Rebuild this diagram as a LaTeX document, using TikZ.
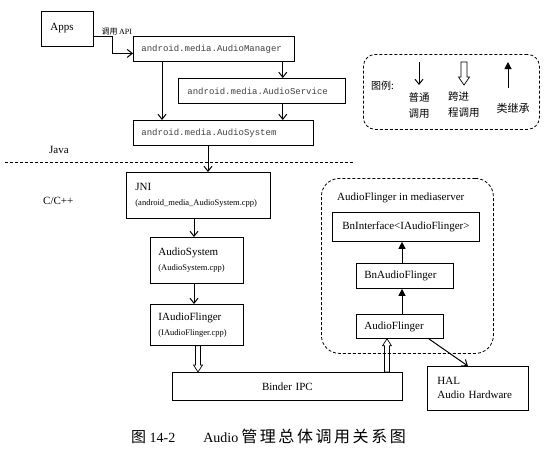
\documentclass[tikz,border=0pt]{standalone}
\usepackage{fontspec}
\setmainfont{Liberation Serif}
\setmonofont{Liberation Mono}
\newfontfamily\cjk{Noto Sans CJK SC}
\newfontfamily\cjkcap[LetterSpace=16]{Noto Sans CJK SC}
\usetikzlibrary{arrows.meta,calc}
\newcommand\mytitlefont{\fontsize{11}{13}\selectfont}
\newcommand\mysubfont{\fontsize{8.5}{10}\selectfont}
\newcommand\mymonofont{\ttfamily\fontsize{9}{11}\selectfont\color{black!75}}
\begin{document}
\begin{tikzpicture}[x=1pt,y=-1pt,
  box/.style={draw, line width=0.8pt, anchor=north west, inner ysep=0pt, align=left},
  monobox/.style={box, font=\mymonofont},
  txtbox/.style={box, font=\mytitlefont},
  call/.style={line width=1pt, -{Straight Barb[length=5pt,width=8pt]}},
  inherit/.style={line width=1pt, -{Triangle[length=7pt,width=7pt]}},
  hollow/.style n args={3}{line width=0.7pt, to path={
     ($(\tikztostart)!#1pt!-90:(\tikztotarget)$)
     -- ($(\tikztotarget)!{sqrt(#3*#3+#1*#1)*1pt}!{atan(#1/#3)}:(\tikztostart)$)
     -- ($(\tikztotarget)!{sqrt(#3*#3+#2*#2)*1pt}!{atan(#2/#3)}:(\tikztostart)$)
     -- (\tikztotarget)
     -- ($(\tikztotarget)!{sqrt(#3*#3+#2*#2)*1pt}!{-atan(#2/#3)}:(\tikztostart)$)
     -- ($(\tikztotarget)!{sqrt(#3*#3+#1*#1)*1pt}!{-atan(#1/#3)}:(\tikztostart)$)
     -- ($(\tikztostart)!#1pt!90:(\tikztotarget)$) -- cycle}},
  dashedbox/.style={draw, line width=0.8pt, dash pattern=on 3pt off 2pt, anchor=north west, inner sep=0pt}
]
\useasboundingbox (0,0) rectangle (556,467);

% ---------- Java layer ----------
\node[txtbox, minimum width=52pt, minimum height=35pt, text width=34pt, inner xsep=9pt] (apps) at (41,11) {\raisebox{4pt}{Apps}};
\node[monobox, minimum width=161pt, minimum height=25pt, text width=145pt, inner xsep=8pt] (am) at (133,36) {android.media.AudioManager};
\node[monobox, minimum width=167pt, minimum height=25pt, text width=149pt, inner xsep=9pt] (as) at (178,78) {android.media.AudioService};
\node[monobox, minimum width=180pt, minimum height=25pt, text width=164pt, inner xsep=8pt] (asys) at (133,120) {android.media.AudioSystem};

\draw[call] ([yshift=10pt]apps.south east) -- ++(19,0) |- ([yshift=-4.5pt]am.west);
\node[anchor=south west, inner sep=0.5pt, font=\fontsize{8}{9}\selectfont] (lblapi) at (101,36) {{\cjk 调用}\,API};

\coordinate (amR) at ([xshift=-12pt]am.south east);
\coordinate (amL) at ([xshift=29pt]am.south west);
\coordinate (asB) at (amR |- as.south);
\draw[call] (amR) -- (amR |- as.north);
\draw[call] (asB) -- (asB |- asys.north);
\draw[call] (amL) -- (amL |- asys.north);

\node[anchor=west, inner sep=0pt, font=\mytitlefont] (java) at (49,150) {Java};
\draw[line width=0.8pt, dash pattern=on 3pt off 2pt] (5,162) coordinate (sepA) -- (353,162) coordinate (sepB);
\node[anchor=west, inner sep=0pt, font=\mytitlefont] (cpp) at (43,201) {C/C++};

% ---------- native layer ----------
\node[txtbox, minimum width=144pt, minimum height=46pt, text width=126pt, inner xsep=9pt] (jni) at (126,172)
  {JNI\\[2pt]{\mysubfont (android\_media\_AudioSystem.cpp)}};
\node[txtbox, minimum width=93pt, minimum height=46pt, text width=77pt, inner xsep=8pt] (asn) at (150,237)
  {AudioSystem\\[2pt]{\mysubfont (AudioSystem.cpp)}};
\node[txtbox, minimum width=93pt, minimum height=41pt, text width=77pt, inner xsep=8pt] (iaf) at (150,304)
  {IAudioFlinger\\[2pt]{\mysubfont (IAudioFlinger.cpp)}};
\node[txtbox, minimum width=230pt, minimum height=28pt, text width=212pt, inner xsep=9pt, align=center] (binder) at (172,372) {Binder IPC};

\coordinate (asysB) at ([xshift=75pt]asys.south west);
\draw[call] (asysB) -- (asysB |- jni.north);
\coordinate (jniB) at ([xshift=68pt]jni.south west);
\draw[call] (jniB) -- (jniB |- asn.north);
\coordinate (asnB) at (jniB |- asn.south);
\draw[call] (asnB) -- (asnB |- iaf.north);

% ---------- mediaserver ----------
\node[dashedbox, rounded corners=18pt, minimum width=172pt, minimum height=175pt] (ms) at (321,178) {};
\node[anchor=west, inner sep=0pt, font=\mytitlefont] (mslabel) at (337,198) {AudioFlinger in mediaserver};
\node[txtbox, minimum width=147pt, minimum height=29pt, text width=135pt, inner xsep=6pt, align=center] (bni) at (332,212) {BnInterface<IAudioFlinger>};
\node[txtbox, minimum width=97pt, minimum height=25pt, text width=81pt, inner xsep=8pt] (bnaf) at (356,263) {BnAudioFlinger};
\node[txtbox, minimum width=87pt, minimum height=24pt, text width=71pt, inner xsep=8pt] (af) at (356,314) {AudioFlinger};
\node[txtbox, minimum width=101pt, minimum height=44pt, text width=81pt, inner xsep=10pt] (hal) at (427,366)
  {HAL\\[1pt]Audio Hardware};

\coordinate (bnafT) at ([xshift=46pt]bnaf.north west);
\draw[inherit] (bnafT) -- (bnafT |- bni.south);
\coordinate (afT) at ([xshift=46pt]af.north west);
\draw[inherit] (afT) -- (afT |- bnaf.south);

\coordinate (iafB) at ([xshift=48pt]iaf.south west);
\coordinate (binT) at (iafB |- binder.north);
\draw[hollow={2.5}{4.5}{7}] (iafB) to (binT);
\coordinate (afB) at ([xshift=31pt]af.south west);
\coordinate (binT2) at (afB |- binder.north);
\draw[hollow={2.5}{4.5}{7}] (binT2) to (afB);

\coordinate (afH) at ([xshift=-15pt]af.south east);
\coordinate (halT) at ([xshift=-10pt]hal.north);
\draw[call] (afH) -- (halT);

% ---------- legend ----------
\node[dashedbox, rounded corners=12pt, minimum width=176pt, minimum height=75pt] (legend) at (363,54) {};
\node[anchor=west, inner sep=0pt, font=\cjk\fontsize{10}{12}\selectfont] (lgtitle) at (371,86) {图例:};
\coordinate (lgA1) at (419,62);
\coordinate (lgA2) at (419,85);
\draw[call] (lgA1) -- (lgA2);
\node[anchor=north, inner sep=0pt, align=center, font=\cjk\fontsize{10.5}{16}\selectfont] (lgcall) at (419,92) {普通\\调用};
\coordinate (lgB1) at (464,62);
\coordinate (lgB2) at (464,85);
\draw[hollow={3}{5.5}{8}] (lgB1) to (lgB2);
\node[anchor=north west, inner sep=0pt, align=left, font=\cjk\fontsize{10.5}{16}\selectfont] (lgipc) at (448,92) {跨进\\程调用};
\coordinate (lgC1) at (508,88);
\coordinate (lgC2) at (508,62);
\draw[inherit] (lgC1) -- (lgC2);
\node[inner sep=0pt, font=\cjk\fontsize{11}{13}\selectfont] (lginh) at (513,108) {类继承};

% ---------- caption ----------
\node[anchor=west, inner sep=0pt, font=\fontsize{14}{16}\selectfont] (caption) at (131,436)
  {{\cjk\fontsize{15}{17}\selectfont 图} 14-2\hspace{28pt}Audio\hspace{3pt}{\cjkcap\fontsize{16}{18}\selectfont 管理总体调用关系图}};
\end{tikzpicture}
\end{document}
